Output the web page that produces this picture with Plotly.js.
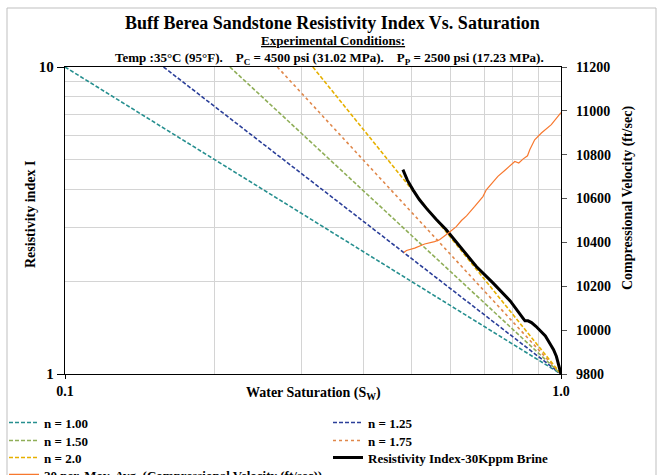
<!DOCTYPE html>
<html>
<head>
<meta charset="utf-8">
<script src="https://cdn.plot.ly/plotly-3.0.1.min.js"></script>
<style>
  html, body { margin: 0; padding: 0; background: #ffffff; }
  #chart { width: 659px; height: 475px; }
</style>
</head>
<body>
<div id="chart"></div>
<script>
// ---- Archie model lines (read endpoints: where each line leaves the top of the chart, and Sw=1, I=1)
const nLabels = ['n = 1.00', 'n = 1.25', 'n = 1.50', 'n = 1.75', 'n = 2.0'];
const nLineSw = [[0.1, 1.0], [0.158, 1.0], [0.215, 1.0], [0.268, 1.0], [0.316, 1.0]];
const nLineI = [[10, 1], [10, 1], [10, 1], [10, 1], [10, 1]];

// ---- Measured resistivity index (30 Kppm brine)
const riSw = [0.480, 0.490, 0.503, 0.518, 0.535, 0.560, 0.587, 0.630, 0.675, 0.729, 0.790, 0.838, 0.846, 0.858, 0.872, 0.890, 0.906, 0.930, 0.949, 0.966, 0.979, 0.990, 1.0];
const riI  = [4.63, 4.28, 3.98, 3.70, 3.47, 3.19, 2.95, 2.57, 2.24, 1.98, 1.73, 1.52, 1.49, 1.49, 1.47, 1.43, 1.39, 1.33, 1.26, 1.20, 1.14, 1.07, 1.0];

// ---- Compressional velocity, 20 per. moving average (ft/sec)
const velSw = [0.482, 0.488, 0.507, 0.531, 0.556, 0.569, 0.592, 0.615, 0.630, 0.645, 0.670, 0.696, 0.707, 0.729, 0.746, 0.770, 0.794, 0.807, 0.822, 0.838, 0.856, 0.865, 0.885, 0.913, 0.956, 0.997, 1.0];
const vel   = [10354, 10363, 10374, 10393, 10404, 10412, 10442, 10472, 10500, 10521, 10564, 10609, 10640, 10673, 10701, 10728, 10754, 10769, 10762, 10780, 10795, 10823, 10868, 10899, 10937, 10987, 10992];

const xTickVals = [0.1, 1.0];
const xTickText = ['0.1', '1.0'];
const xMinorVals = [0.2, 0.3, 0.4, 0.5, 0.6, 0.7, 0.8, 0.9];
const yTickVals = [1, 10];
const yTickText = ['1', '10'];
const yMinorVals = [2, 3, 4, 5, 6, 7, 8, 9];

const nColors = ['#268f8f', '#2b3f99', '#8fae58', '#e0874a', '#e6b000'];
const nDash = ['4px,2px', '4px,2px', '4px,2px', 'dot', '4px,2px'];

const FONT = 'Liberation Serif, Times New Roman, serif';

// legend slot for each trace: [column, row]
const legendSlots = [[0, 0], [1, 0], [0, 1], [1, 1], [0, 2], [1, 2], [0, 3]];
const colX = [4, 328];
const rowY = [422, 440, 457, 474];

const traces = [];
for (let k = 0; k < nLabels.length; k++) {
  traces.push({
    x: nLineSw[k], y: nLineI[k], type: 'scatter', mode: 'lines', name: nLabels[k],
    line: { color: nColors[k], width: 1.6, dash: nDash[k] }, xaxis: 'x', yaxis: 'y'
  });
}
traces.push({
  x: riSw, y: riI, type: 'scatter', mode: 'lines', name: 'Resistivity Index-30Kppm Brine',
  line: { color: '#000000', width: 3 }, xaxis: 'x', yaxis: 'y'
});
traces.push({
  x: velSw, y: vel, type: 'scatter', mode: 'lines', name: '20 per. Mov. Avg. (Compressional Velocity (ft/sec))',
  line: { color: '#f7782e', width: 1.2 }, xaxis: 'x', yaxis: 'y2'
});

const PT = 374, PH = 307, PL = 65, PW = 496;
const py = v => (PT - v) / PH;
const px = v => (v - PL) / PW;

const layout = {
  width: 659, height: 475,
  margin: { l: 65, r: 98, t: 67, b: 101, autoexpand: false },
  paper_bgcolor: '#ffffff', plot_bgcolor: '#ffffff',
  font: { family: FONT, size: 14, color: '#000000', weight: 'bold' },
  showlegend: true,
  xaxis: {
    type: 'log', range: [-1, 0],
    tickmode: 'array', tickvals: xTickVals, ticktext: xTickText,
    ticks: 'outside', ticklen: 4, tickcolor: '#000',
    showgrid: false, zeroline: false,
    showline: true, linecolor: '#000', linewidth: 1.3, mirror: true,
    tickfont: { family: FONT, size: 14, weight: 'bold' },
    minor: { tickmode: 'array', tickvals: xMinorVals, showgrid: true, gridcolor: '#d4d4d4', gridwidth: 1, ticks: '' }
  },
  yaxis: {
    type: 'log', range: [0, 1],
    tickmode: 'array', tickvals: yTickVals, ticktext: yTickText,
    ticks: 'outside', ticklen: 7, tickcolor: '#000',
    showgrid: false, zeroline: false,
    showline: true, linecolor: '#000', linewidth: 1.3,
    tickfont: { family: FONT, size: 15, weight: 'bold' },
    minor: { tickmode: 'array', tickvals: yMinorVals, showgrid: true, gridcolor: '#d4d4d4', gridwidth: 1, ticks: '' }
  },
  yaxis2: {
    overlaying: 'y', side: 'right', range: [9800, 11200],
    tickmode: 'linear', tick0: 9800, dtick: 200, tickformat: 'd',
    ticks: 'outside', ticklen: 5, tickcolor: '#555', ticklabelstandoff: 6,
    showgrid: false, zeroline: false,
    showline: true, linecolor: '#000', linewidth: 1.3,
    tickfont: { family: FONT, size: 14, weight: 'bold' }
  },
  annotations: [
    { text: '<b>Buff Berea Sandstone Resistivity Index Vs. Saturation</b>', xref: 'paper', yref: 'paper',
      x: px(332), y: py(23), xanchor: 'center', yanchor: 'middle', showarrow: false,
      font: { family: FONT, size: 18, color: '#000' } },
    { text: '<b><u>Experimental Conditions:</u></b>', xref: 'paper', yref: 'paper',
      x: px(333), y: py(41), xanchor: 'center', yanchor: 'middle', showarrow: false,
      font: { family: FONT, size: 13, color: '#000' } },
    { text: '<b>Temp :35°C (95°F).    P<sub>C</sub> = 4500 psi (31.02 MPa).    P<sub>P</sub> = 2500 psi (17.23 MPa).</b>',
      xref: 'paper', yref: 'paper',
      x: px(329), y: py(58), xanchor: 'center', yanchor: 'middle', showarrow: false,
      font: { family: FONT, size: 13, color: '#000' } },
    { text: '<b>Water Saturation (S<sub>W</sub>)</b>', xref: 'paper', yref: 'paper',
      x: px(313), y: py(393), xanchor: 'center', yanchor: 'middle', showarrow: false,
      font: { family: FONT, size: 14, color: '#000' } },
    { text: '<b>Resistivity index I</b>', xref: 'paper', yref: 'paper',
      x: px(30), y: py(215), xanchor: 'center', yanchor: 'middle', textangle: -90, showarrow: false,
      font: { family: FONT, size: 14, color: '#000' } },
    { text: '<b>Compressional Velocity (ft/sec)</b>', xref: 'paper', yref: 'paper',
      x: px(628), y: py(198), xanchor: 'center', yanchor: 'middle', textangle: -90, showarrow: false,
      font: { family: FONT, size: 14, color: '#000' } }
  ],
  shapes: [
    { type: 'rect', xref: 'paper', yref: 'paper',
      x0: px(7), x1: px(656), y0: py(490), y1: py(8),
      line: { color: '#bfbfbf', width: 1 }, fillcolor: 'rgba(0,0,0,0)', layer: 'below' }
  ]
};

// one legend box per entry so the two-column, tightly spaced layout can be matched
traces.forEach((t, i) => {
  const key = i === 0 ? 'legend' : 'legend' + (i + 1);
  t.legend = key;
  const slot = legendSlots[i];
  layout[key] = {
    orientation: 'v', xref: 'container', yref: 'container', xanchor: 'left', yanchor: 'top',
    x: colX[slot[0]] / 659, y: 1 - (rowY[slot[1]] - 14.5) / 475,
    font: { family: FONT, size: 13, color: '#000', weight: 'bold' },
    itemwidth: 30, bgcolor: 'rgba(0,0,0,0)', borderwidth: 0
  };
});

Plotly.newPlot('chart', traces, layout, { displayModeBar: false, staticPlot: true });
</script>
</body>
</html>
